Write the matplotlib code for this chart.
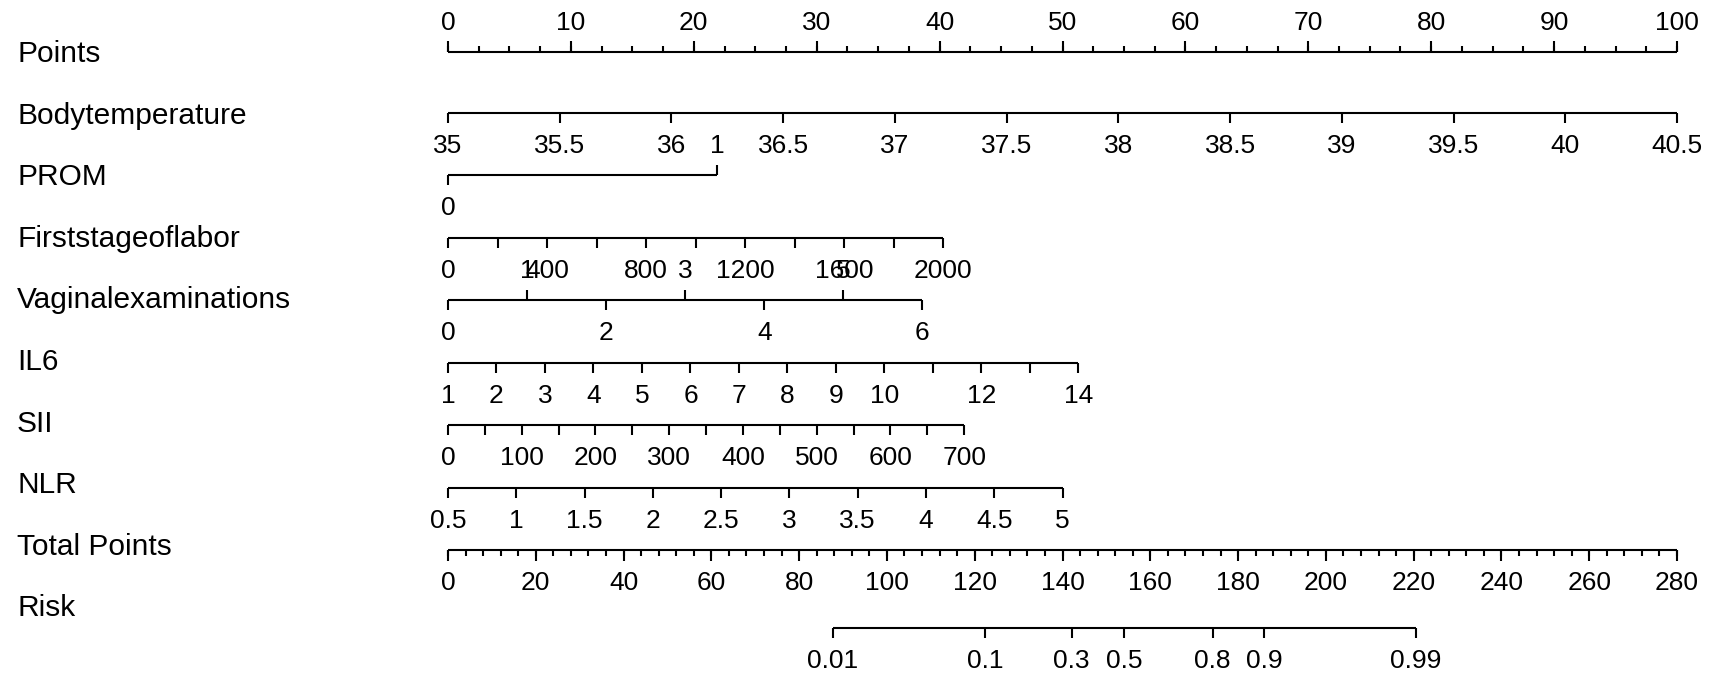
import numpy as np
import matplotlib
matplotlib.use("Agg")
import matplotlib.pyplot as plt

plt.rcParams['font.family'] = ['Liberation Sans', 'DejaVu Sans']

# ---------------- data ----------------
row_labels = ["Points", "Bodytemperature", "PROM", "Firststageoflabor",
              "Vaginalexaminations", "IL6", "SII", "NLR", "Total Points", "Risk"]

points_labels = [0, 10, 20, 30, 40, 50, 60, 70, 80, 90, 100]
points_minor_step = 2.5

body_ticks = [35, 35.5, 36, 36.5, 37, 37.5, 38, 38.5, 39, 39.5, 40, 40.5]
body_range = (35, 40.5)
body_max_points = 100

prom_values = [0, 1]
prom_points = [0, 21.9]

labor_ticks = [0, 200, 400, 600, 800, 1000, 1200, 1400, 1600, 1800, 2000]
labor_labels = [0, 400, 800, 1200, 1600, 2000]
labor_range = (0, 2000)
labor_max_points = 40.3

vag_values = [0, 1, 2, 3, 4, 5, 6]
vag_range = (0, 6)
vag_max_points = 38.6

il6_ticks = [1, 2, 3, 4, 5, 6, 7, 8, 9, 10, 11, 12, 13, 14]
il6_labels = [1, 2, 3, 4, 5, 6, 7, 8, 9, 10, 12, 14]
il6_range = (1, 14)
il6_max_points = 51.3

sii_ticks = [0, 50, 100, 150, 200, 250, 300, 350, 400, 450, 500, 550, 600, 650, 700]
sii_labels = [0, 100, 200, 300, 400, 500, 600, 700]
sii_range = (0, 700)
sii_max_points = 42.0

nlr_ticks = [0.5, 1, 1.5, 2, 2.5, 3, 3.5, 4, 4.5, 5]
nlr_range = (0.5, 5)
nlr_max_points = 50.0

total_labels = [0, 20, 40, 60, 80, 100, 120, 140, 160, 180, 200, 220, 240, 260, 280]
total_minor_step = 4
total_max = 280

risk_labels = ["0.01", "0.1", "0.3", "0.5", "0.8", "0.9", "0.99"]
risk_total_points = [87.7, 122.4, 142.1, 154.1, 174.2, 186.0, 220.5]

# ---------------- layout ----------------
W, H = 1713, 677
X0, PX_PER_PT = 448.0, 12.29        # pixel x of 0 points, pixels per point
axis_y = [52, 113, 175, 238, 300, 363, 425, 488, 550, 628]
label_base = [62.0 + 61.6 * i for i in range(10)]
LW = 1.5
MAJ, MIN = 10, 6
FS_ROW, FS_TICK = 21.5, 19
BELOW, ABOVE = 40, 22

fig = plt.figure(figsize=(W / 100, H / 100), dpi=100)
ax = fig.add_axes([0, 0, 1, 1])
ax.set_xlim(-X0 / PX_PER_PT, (W - X0) / PX_PER_PT)
ax.set_ylim(H, 0)
ax.axis('off')


def fmt(v):
    if isinstance(v, str):
        return v
    return f"{v:g}"


def hline(y, x0, x1):
    ax.plot([x0, x1], [y, y], color='black', lw=LW, solid_capstyle='butt')


def tick(x, y, length, up):
    y2 = y - length if up else y + length
    ax.plot([x, x], [y, y2], color='black', lw=LW, solid_capstyle='butt')


def label(x, y, text, up):
    yy = y - ABOVE if up else y + BELOW
    ax.text(x, yy, fmt(text), ha='center', va='baseline', fontsize=FS_TICK, color='black')


def scale(v, rng, maxp):
    return (np.asarray(v, dtype=float) - rng[0]) / (rng[1] - rng[0]) * maxp


# row labels
for name, yb in zip(row_labels, label_base):
    ax.text(17 / PX_PER_PT - X0 / PX_PER_PT, yb, name, ha='left', va='baseline',
            fontsize=FS_ROW, color='black')

# Points
y = axis_y[0]
hline(y, 0, 100)
for m in np.arange(0, 100 + 1e-9, points_minor_step):
    tick(m, y, MIN, True)
for v in points_labels:
    tick(v, y, MAJ + 1, True)
    label(v, y, v, True)

# Bodytemperature
y = axis_y[1]
hline(y, 0, body_max_points)
for v in body_ticks:
    x = scale(v, body_range, body_max_points)
    tick(x, y, MAJ, False)
    label(x, y, v, False)

# PROM
y = axis_y[2]
hline(y, prom_points[0], prom_points[1])
tick(prom_points[0], y, MAJ, False)
label(prom_points[0], y, prom_values[0], False)
tick(prom_points[1], y, MAJ, True)
label(prom_points[1], y, prom_values[1], True)

# First stage of labor
y = axis_y[3]
hline(y, 0, labor_max_points)
for v in labor_ticks:
    tick(scale(v, labor_range, labor_max_points), y, MAJ, False)
for v in labor_labels:
    label(scale(v, labor_range, labor_max_points), y, v, False)

# Vaginal examinations
y = axis_y[4]
hline(y, 0, vag_max_points)
for v in vag_values:
    x = scale(v, vag_range, vag_max_points)
    up = (v % 2 == 1)
    tick(x, y, MAJ, up)
    label(x, y, v, up)

# IL6
y = axis_y[5]
hline(y, 0, il6_max_points)
for v in il6_ticks:
    tick(scale(v, il6_range, il6_max_points), y, MAJ, False)
for v in il6_labels:
    label(scale(v, il6_range, il6_max_points), y, v, False)

# SII
y = axis_y[6]
hline(y, 0, sii_max_points)
for v in sii_ticks:
    tick(scale(v, sii_range, sii_max_points), y, MAJ, False)
for v in sii_labels:
    label(scale(v, sii_range, sii_max_points), y, v, False)

# NLR
y = axis_y[7]
hline(y, 0, nlr_max_points)
for v in nlr_ticks:
    x = scale(v, nlr_range, nlr_max_points)
    tick(x, y, MAJ, False)
    label(x, y, v, False)

# Total points
y = axis_y[8]
hline(y, 0, 100)
for m in np.arange(0, total_max + 1e-9, total_minor_step):
    tick(m / total_max * 100, y, MIN, False)
for v in total_labels:
    x = v / total_max * 100
    tick(x, y, MAJ + 1, False)
    label(x, y, v, False)

# Risk
y = axis_y[9]
rx = [t / total_max * 100 for t in risk_total_points]
hline(y, rx[0], rx[-1])
for x, t in zip(rx, risk_labels):
    tick(x, y, MAJ, False)
    label(x, y, t, False)

fig.savefig("out.png", dpi=100, facecolor='white')
